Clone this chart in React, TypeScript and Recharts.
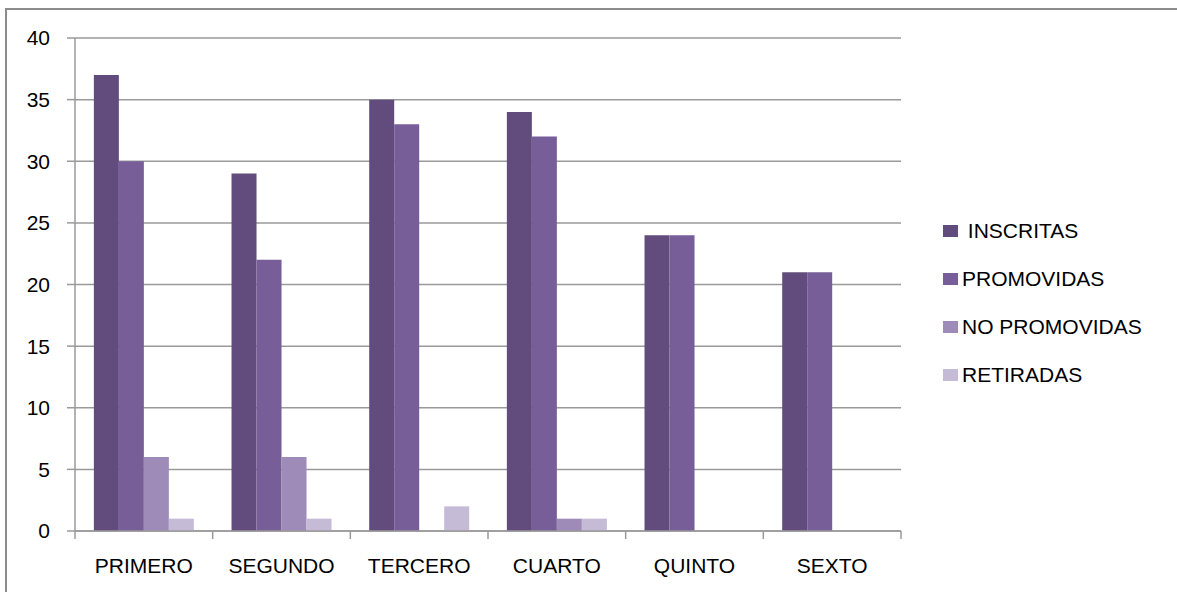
import React from 'react'
import { BarChart, Bar, XAxis, YAxis, CartesianGrid } from 'recharts'

const categories = ['PRIMERO', 'SEGUNDO', 'TERCERO', 'CUARTO', 'QUINTO', 'SEXTO']
const inscritas = [37, 29, 35, 34, 24, 21]
const promovidas = [30, 22, 33, 32, 24, 21]
const noPromovidas = [6, 6, 0, 1, 0, 0]
const retiradas = [1, 1, 2, 1, 0, 0]
const yTicks = [0, 5, 10, 15, 20, 25, 30, 35, 40]

const series = [
  { key: 'inscritas', label: ' INSCRITAS', color: '#614C7D' },
  { key: 'promovidas', label: 'PROMOVIDAS', color: '#785E99' },
  { key: 'noPromovidas', label: 'NO PROMOVIDAS', color: '#9E8BB8' },
  { key: 'retiradas', label: 'RETIRADAS', color: '#C5BBD7' },
]

const data = categories.map((name, i) => ({
  name,
  inscritas: inscritas[i],
  promovidas: promovidas[i],
  noPromovidas: noPromovidas[i],
  retiradas: retiradas[i],
}))

const W = 1177
const H = 592
const margin = { top: 38, right: 276, bottom: 21, left: 0 }
const Y_AXIS_W = 75
const X_AXIS_H = 40
const band = (W - margin.left - margin.right - Y_AXIS_W) / categories.length

const FONT = '"Liberation Sans", Arial, sans-serif'
const GRID = '#9a9a9a'
const TEXT = '#000'

function CategoryTick(props: any) {
  const { x, y, payload, index } = props
  const last = index === categories.length - 1
  return (
    <g>
      <line x1={x - band / 2} x2={x - band / 2} y1={y} y2={y + 8} stroke={GRID} strokeWidth={1.5} />
      {last && <line x1={x + band / 2} x2={x + band / 2} y1={y} y2={y + 8} stroke={GRID} strokeWidth={1.5} />}
      <text x={x} y={y + 42} textAnchor="middle" fill={TEXT} fontSize={21} fontFamily={FONT}>
        {payload.value}
      </text>
    </g>
  )
}

export default function App() {
  return (
    <div style={{ position: 'absolute', left: 0, top: 0, width: W, height: H, background: '#fff', overflow: 'hidden' }}>
      <div style={{ position: 'absolute', left: 5, top: 8, width: W, height: H, borderLeft: '2px solid #8c8c8c', borderTop: '2px solid #8c8c8c' }} />
      <div style={{ position: 'absolute', left: 0, top: 0 }}>
        <BarChart width={W} height={H} data={data} margin={margin} barGap={0} barCategoryGap="13.7%">
          <CartesianGrid vertical={false} stroke={GRID} strokeWidth={1.5} />
          <XAxis
            dataKey="name"
            height={X_AXIS_H}
            tickSize={0}
            tickMargin={0}
            tickLine={false}
            axisLine={{ stroke: GRID, strokeWidth: 1.5 }}
            tick={<CategoryTick />}
            interval={0}
          />
          <YAxis
            width={Y_AXIS_W}
            domain={[0, 40]}
            ticks={yTicks}
            interval={0}
            tickSize={8}
            tickMargin={17}
            tickLine={{ stroke: GRID, strokeWidth: 1.5 }}
            axisLine={{ stroke: GRID, strokeWidth: 1.5 }}
            tick={{ fill: TEXT, fontSize: 21, fontFamily: FONT }}
          />
          {series.map(s => (
            <Bar key={s.key} dataKey={s.key} fill={s.color} isAnimationActive={false} />
          ))}
        </BarChart>
      </div>
      <div style={{ position: 'absolute', left: 943, top: 207, fontFamily: FONT, fontSize: 21, color: TEXT }}>
        {series.map(s => (
          <div key={s.key} style={{ display: 'flex', alignItems: 'center', height: 48 }}>
            <span style={{ display: 'inline-block', width: 15, height: 12, background: s.color, marginRight: 4 }} />
            <span style={{ whiteSpace: 'pre' }}>{s.label}</span>
          </div>
        ))}
      </div>
    </div>
  )
}
